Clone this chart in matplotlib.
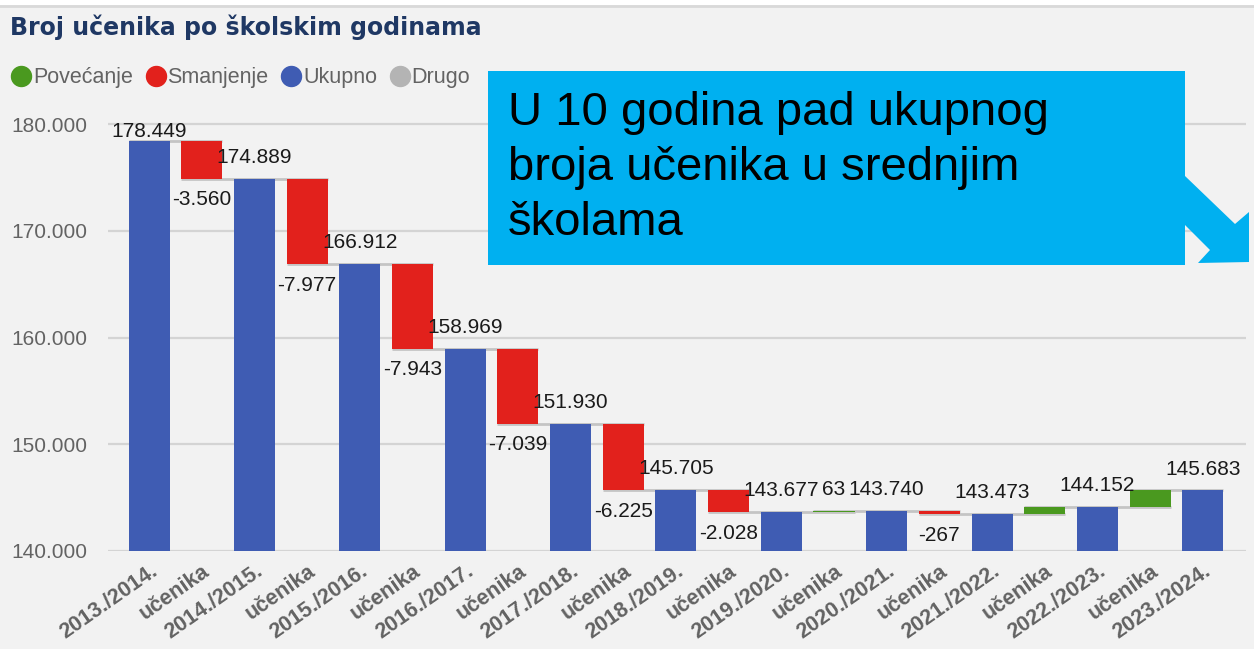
import matplotlib
matplotlib.use("Agg")
import matplotlib.pyplot as plt
from matplotlib.lines import Line2D
from matplotlib.patches import Polygon, Rectangle
from matplotlib.ticker import FuncFormatter

plt.rcParams["font.family"] = ["Liberation Sans", "DejaVu Sans"]

# data
years = ["2013./2014.", "2014./2015.", "2015./2016.", "2016./2017.", "2017./2018.",
         "2018./2019.", "2019./2020.", "2020./2021.", "2021./2022.", "2022./2023.",
         "2023./2024."]
totals = [178449, 174889, 166912, 158969, 151930, 145705, 143677, 143740, 143473,
          144152, 145683]
changes = [-3560, -7977, -7943, -7039, -6225, -2028, 63, -267, 679, 1531]
change_label = "učenika"
hidden_change_labels = [679, 1531]

c_up = "#4a991f"
c_down = "#e2211c"
c_total = "#3f5cb3"
c_other = "#b4b4b4"
c_grid = "#d4d4d4"
c_text = "#636363"
bg = "#f2f2f2"

W, H = 1254, 649


def fx(px):
    return px / W


def fy(py):
    return 1 - py / H


def fmt(v):
    return f"{v:,.0f}".replace(",", ".")


# build waterfall sequence
labels = []
bottoms = []
heights = []
colors = []
texts = []
for i, y in enumerate(years):
    labels.append(y)
    bottoms.append(0)
    heights.append(totals[i])
    colors.append(c_total)
    texts.append((fmt(totals[i]), totals[i], "above"))
    if i < len(changes):
        d = changes[i]
        labels.append(change_label)
        lo = min(totals[i], totals[i] + d)
        bottoms.append(lo)
        heights.append(abs(d))
        colors.append(c_up if d > 0 else c_down)
        if d in hidden_change_labels:
            texts.append(None)
        elif d > 0:
            texts.append((fmt(d), totals[i] + d, "above"))
        else:
            texts.append((fmt(d), totals[i] + d, "below"))

n = len(labels)
xs = list(range(n))
bar_w = 0.78
ymin, ymax = 140000, 180800
label_ceiling = 177300

fig = plt.figure(figsize=(W / 100, H / 100), dpi=100, facecolor=bg)
fig.patches.append(Rectangle((0, fy(5)), 1, 1 - fy(5), transform=fig.transFigure,
                             facecolor="white", edgecolor="none", zorder=0))
fig.add_artist(Line2D([0, 1], [fy(5.5), fy(5.5)], transform=fig.transFigure,
                      color="#d9d9d9", lw=2))

ax = fig.add_axes([fx(108), fy(551), fx(1246 - 108), fy(115.5) - fy(551)])
ax.set_facecolor(bg)

# connectors
levels = []
for k in range(n):
    levels.append(bottoms[k] + heights[k] if colors[k] != c_down else bottoms[k])
for k in range(n - 1):
    ax.plot([k - bar_w / 2, k + 1 + bar_w / 2], [levels[k], levels[k]],
            color="#c4c4c4", lw=2, zorder=2, solid_capstyle="butt")

ax.bar(xs, heights, bar_w, bottom=bottoms, color=colors, zorder=3)

for k, t in enumerate(texts):
    if t is None:
        continue
    s, v, where = t
    if where == "above":
        ax.annotate(s, (k, min(v, label_ceiling)), xytext=(0, 8.5),
                    textcoords="offset points", ha="center", va="bottom",
                    fontsize=15, color="#1a1a1a", zorder=5)
    else:
        ax.annotate(s, (k, v), xytext=(0, -8.5), textcoords="offset points",
                    ha="center", va="top", fontsize=15, color="#1a1a1a", zorder=5)

ax.set_xlim(-0.78, 20.82)
ax.set_ylim(ymin, ymax)
ax.set_yticks([140000, 150000, 160000, 170000, 180000])
ax.yaxis.set_major_formatter(FuncFormatter(lambda v, p: fmt(v)))
ax.grid(axis="y", color=c_grid, lw=1.6, zorder=0)
ax.set_axisbelow(True)
for s in ax.spines.values():
    s.set_visible(False)
ax.tick_params(axis="both", length=0)
ax.tick_params(axis="y", labelsize=15, labelcolor=c_text, pad=15)
ax.set_xticks(xs)
ax.set_xticklabels(labels, rotation=35, ha="right", rotation_mode="anchor",
                   fontsize=15.5, fontweight="bold", color=c_text)
ax.tick_params(axis="x", pad=7)

fig.text(fx(10), fy(27), "Broj učenika po školskim godinama", fontsize=17,
         fontweight="bold", family="DejaVu Sans", color="#1f3864",
         va="center", ha="left")

handles = [Line2D([], [], marker="o", ls="", markersize=14.4, color=c)
           for c in (c_up, c_down, c_total, c_other)]
fig.legend(handles, ["Povećanje", "Smanjenje", "Ukupno", "Drugo"],
           loc="center left", bbox_to_anchor=(fx(2), fy(78)), ncol=4,
           frameon=False, handletextpad=0.05, columnspacing=0.55, handlelength=1.0,
           fontsize=15.5, labelcolor=c_text, borderaxespad=0)

# callout box and arrow
fig.patches.append(Rectangle((fx(488), fy(265)), fx(1185 - 488), fy(71) - fy(265),
                             transform=fig.transFigure, facecolor="#00b0f0",
                             edgecolor="none", zorder=10))
arrow_px = [(1160, 152), (1235, 224), (1249, 212), (1249, 262), (1198, 263),
            (1210, 250), (1160, 200)]
fig.patches.append(Polygon([(fx(x), fy(y)) for x, y in arrow_px], closed=True,
                           transform=fig.transFigure, facecolor="#00b0f0",
                           edgecolor="none", zorder=10))
fig.text(fx(508), fy(91), "U 10 godina pad ukupnog\nbroja učenika u srednjim\nškolama",
         fontsize=34, color="black", va="top", ha="left", linespacing=1.33, zorder=11)

fig.savefig("out.png", dpi=100, facecolor=bg)
